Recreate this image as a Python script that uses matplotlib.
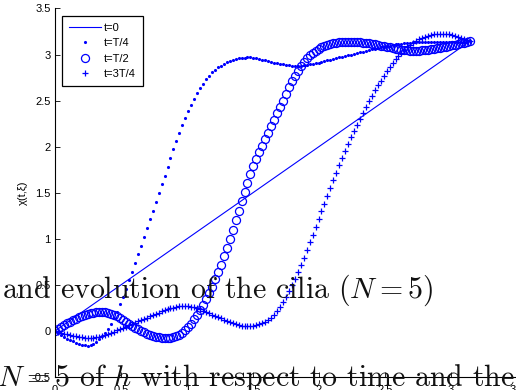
import numpy as np
import matplotlib
matplotlib.use('Agg')
import matplotlib.pyplot as plt

# xi sampled on [0, pi], 141 points
xi = np.linspace(0, np.pi, 141)

# t = 0 : straight line
xi_0 = [0, np.pi]
chi_0 = [0, np.pi]

# t = T/4 (dots)
chi_q = [0, -0.025, -0.048, -0.068, -0.085, -0.10, -0.113, -0.126, -0.138, -0.148,
         -0.155, -0.158, -0.155, -0.142, -0.12, -0.09, -0.06, -0.025, 0.02, 0.075,
         0.14, 0.21, 0.29, 0.37, 0.46, 0.55, 0.64, 0.735, 0.83, 0.925,
         1.02, 1.115, 1.21, 1.305, 1.40, 1.495, 1.59, 1.685, 1.78, 1.875,
         1.97, 2.06, 2.145, 2.23, 2.31, 2.385, 2.455, 2.52, 2.58, 2.635,
         2.685, 2.73, 2.77, 2.805, 2.835, 2.86, 2.88, 2.90, 2.915, 2.93,
         2.94, 2.95, 2.957, 2.963, 2.967, 2.97, 2.97, 2.967, 2.962, 2.955,
         2.945, 2.937, 2.928, 2.92, 2.912, 2.905, 2.898, 2.892, 2.887, 2.883,
         2.88, 2.879, 2.879, 2.88, 2.883, 2.887, 2.892, 2.898, 2.905, 2.912,
         2.92, 2.928, 2.936, 2.944, 2.952, 2.96, 2.968, 2.976, 2.984, 2.992,
         3.00, 3.008, 3.016, 3.024, 3.032, 3.04, 3.048, 3.056, 3.064, 3.072,
         3.08, 3.086, 3.092, 3.098, 3.104, 3.11, 3.114, 3.118, 3.122, 3.126,
         3.13, 3.132, 3.134, 3.136, 3.138, 3.14, 3.141, 3.141, 3.141, 3.141,
         3.141, 3.141, 3.141, 3.141, 3.141, 3.141, 3.141, 3.141, 3.141, 3.141,
         3.142]

# t = T/2 (circles)
chi_h = [0, 0.022, 0.043, 0.063, 0.082, 0.10, 0.118, 0.134, 0.149, 0.162,
         0.174, 0.184, 0.193, 0.20, 0.205, 0.208, 0.208, 0.205, 0.198, 0.188,
         0.175, 0.16, 0.142, 0.122, 0.10, 0.078, 0.057, 0.037, 0.018, 0.0,
         -0.015, -0.03, -0.042, -0.053, -0.062, -0.069, -0.074, -0.077, -0.078, -0.075,
         -0.07, -0.06, -0.045, -0.022, 0.007, 0.04, 0.08, 0.125, 0.175, 0.225,
         0.28, 0.345, 0.41, 0.48, 0.56, 0.64, 0.72, 0.81, 0.90, 1.00,
         1.10, 1.20, 1.305, 1.41, 1.51, 1.61, 1.70, 1.785, 1.865, 1.94,
         2.01, 2.08, 2.15, 2.22, 2.29, 2.36, 2.43, 2.50, 2.575, 2.645,
         2.71, 2.77, 2.825, 2.875, 2.92, 2.96, 2.99, 3.015, 3.04, 3.06,
         3.077, 3.09, 3.102, 3.112, 3.12, 3.127, 3.132, 3.136, 3.139, 3.14,
         3.14, 3.139, 3.137, 3.134, 3.13, 3.126, 3.121, 3.116, 3.11, 3.104,
         3.098, 3.091, 3.084, 3.077, 3.07, 3.063, 3.057, 3.052, 3.048, 3.045,
         3.043, 3.042, 3.042, 3.043, 3.045, 3.048, 3.052, 3.057, 3.062, 3.068,
         3.074, 3.08, 3.087, 3.094, 3.101, 3.108, 3.115, 3.122, 3.129, 3.135,
         3.142]

# t = 3T/4 (plus)
chi_3q = [0, -0.01, -0.02, -0.029, -0.037, -0.045, -0.052, -0.058, -0.065, -0.07,
          -0.074, -0.076, -0.076, -0.074, -0.07, -0.064, -0.055, -0.045, -0.034, -0.022,
          -0.009, 0.005, 0.019, 0.033, 0.047, 0.061, 0.075, 0.089, 0.103, 0.117,
          0.131, 0.145, 0.159, 0.173, 0.187, 0.20, 0.212, 0.224, 0.235, 0.245,
          0.254, 0.261, 0.267, 0.27, 0.271, 0.27, 0.265, 0.257, 0.246, 0.234,
          0.22, 0.206, 0.192, 0.178, 0.164, 0.15, 0.136, 0.121, 0.106, 0.093,
          0.081, 0.07, 0.061, 0.054, 0.05, 0.049, 0.051, 0.056, 0.063, 0.072,
          0.083, 0.098, 0.118, 0.143, 0.175, 0.215, 0.262, 0.315, 0.372, 0.433,
          0.497, 0.566, 0.639, 0.716, 0.796, 0.878, 0.962, 1.046, 1.13, 1.214,
          1.298, 1.382, 1.466, 1.55, 1.634, 1.717, 1.798, 1.877, 1.954, 2.029,
          2.10, 2.17, 2.238, 2.305, 2.37, 2.434, 2.495, 2.553, 2.61, 2.665,
          2.718, 2.768, 2.816, 2.862, 2.906, 2.947, 2.985, 3.02, 3.052, 3.081,
          3.107, 3.13, 3.15, 3.167, 3.182, 3.195, 3.205, 3.213, 3.219, 3.223,
          3.225, 3.225, 3.223, 3.219, 3.213, 3.205, 3.195, 3.184, 3.171, 3.157,
          3.142]

labels = ['t=0', 't=T/4', 't=T/2', 't=3T/4']
xticks = [0, 0.5, 1, 1.5, 2, 2.5, 3, 3.5]
yticks = [-0.5, 0, 0.5, 1, 1.5, 2, 2.5, 3, 3.5]

plt.rcParams['font.family'] = ['Liberation Sans', 'DejaVu Sans']
plt.rcParams['mathtext.fontset'] = 'cm'

fig = plt.figure(figsize=(5.16, 3.90), dpi=100)
ax = fig.add_axes([0.1066, 0.0333, 0.895, 0.945])

ax.plot(xi_0, chi_0, '-', color='b', lw=0.8, label=labels[0])
ax.plot(xi, chi_q, '.', color='b', ms=4.5, mew=0, label=labels[1])
ax.plot(xi, chi_h, 'o', mfc='none', mec='b', ms=5.8, mew=0.9, label=labels[2])
ax.plot(xi, chi_3q, '+', color='b', ms=5, mew=0.9, label=labels[3])

ax.set_xlim(0, 3.5)
ax.set_ylim(-0.5, 3.5)
ax.set_xticks(xticks)
ax.set_xticklabels(['%g' % v for v in xticks])
ax.set_yticks(yticks)
ax.set_yticklabels(['%g' % v for v in yticks])
ax.spines['top'].set_visible(False)
ax.spines['right'].set_visible(False)
ax.tick_params(direction='in', length=3.5, width=0.6, labelsize=8, pad=3)
ax.tick_params(axis='x', pad=6)
ax.set_ylabel('χ(t,ξ)', fontsize=8, labelpad=3)

leg = ax.legend(loc='upper left', bbox_to_anchor=(62 / 516, 1 - 16 / 390),
                bbox_transform=fig.transFigure, borderaxespad=0,
                fontsize=8, fancybox=False, framealpha=1, edgecolor='black',
                handlelength=2.9, handletextpad=0.3, labelspacing=0.5,
                borderpad=0.6)
leg.get_frame().set_linewidth(0.9)

# text from the page that overlaps the figure
fig.text(0.004, 1 - 298 / 390, r'and evolution of the cilia $(N=5)$',
         fontfamily='cmr10', fontsize=21.5, va='baseline', color='#111111')
fig.text(-0.006, 1 - 386 / 390, r'$N=5$ of $h$ with respect to time and the',
         fontfamily='cmr10', fontsize=21.5, va='baseline', color='#111111')

fig.savefig('out.png', dpi=100)
